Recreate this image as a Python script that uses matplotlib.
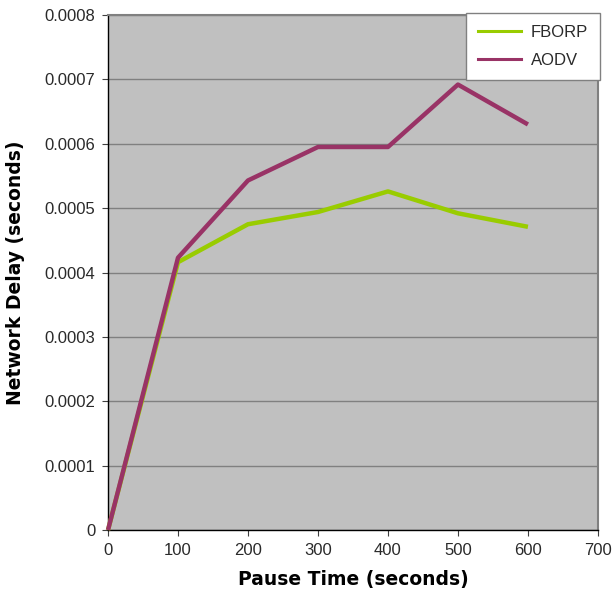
import matplotlib
matplotlib.use("Agg")
import matplotlib.pyplot as plt
from matplotlib.lines import Line2D

plt.rcParams['font.family'] = ['Liberation Sans', 'DejaVu Sans']

# --- data ---
pause_time = [0, 100, 200, 300, 400, 500, 600]
fborp = [0.0, 0.000416, 0.000475, 0.000494, 0.000526, 0.000492, 0.000471]
aodv = [0.0, 0.000423, 0.000543, 0.000595, 0.000595, 0.000692, 0.000630]
x_ticks = [0, 100, 200, 300, 400, 500, 600, 700]
y_ticks = [0, 0.0001, 0.0002, 0.0003, 0.0004, 0.0005, 0.0006, 0.0007, 0.0008]
y_labels = ['0', '0.0001', '0.0002', '0.0003', '0.0004', '0.0005', '0.0006', '0.0007', '0.0008']

green = '#99CC00'
purple = '#993366'

fig = plt.figure(figsize=(6.12, 5.96), dpi=100, facecolor='white')
ax = fig.add_axes([0.1765, 0.1107, 0.8005, 0.8641])
ax.set_facecolor('#C0C0C0')

ax.plot(pause_time, fborp, color=green, lw=3.2, solid_capstyle='butt', zorder=3, clip_on=False)
ax.plot(pause_time, aodv, color=purple, lw=3.2, solid_capstyle='butt', zorder=4, clip_on=False)

ax.set_xlim(0, 700)
ax.set_ylim(0, 0.0008)
ax.set_xticks(x_ticks)
ax.set_yticks(y_ticks)
ax.set_yticklabels(y_labels)
ax.yaxis.grid(True, color='#808080', lw=1.0)
ax.set_axisbelow(True)

for side in ['left', 'bottom']:
    ax.spines[side].set_color('black')
    ax.spines[side].set_linewidth(1.0)
for side in ['top', 'right']:
    ax.spines[side].set_color('#808080')
    ax.spines[side].set_linewidth(1.5)

ax.tick_params(axis='both', labelsize=12, length=4, direction='out', color='#404040',
               labelcolor='#2a2a2a')
ax.tick_params(axis='x', pad=5)
ax.tick_params(axis='y', pad=5)

ax.set_xlabel('Pause Time (seconds)', fontsize=13.5, fontweight='bold', labelpad=9,
              family='DejaVu Sans')
ax.set_ylabel('Network Delay (seconds)', fontsize=13.5, fontweight='bold', labelpad=14,
              family='DejaVu Sans')

handles = [Line2D([], [], color=green, lw=2.2), Line2D([], [], color=purple, lw=2.2)]
leg = ax.legend(handles, ['FBORP', 'AODV'], loc='upper right',
                bbox_to_anchor=(1.004, 1.004), fontsize=12, frameon=True,
                fancybox=False, handlelength=2.6, borderpad=0.7, labelspacing=0.8,
                handletextpad=0.6, borderaxespad=0.0)
leg.get_frame().set_edgecolor('#808080')
leg.get_frame().set_facecolor('white')
leg.get_frame().set_alpha(1.0)
leg.set_zorder(10)
for txt in leg.get_texts():
    txt.set_color('#2a2a2a')

fig.savefig('out.png', dpi=100, facecolor='white')
